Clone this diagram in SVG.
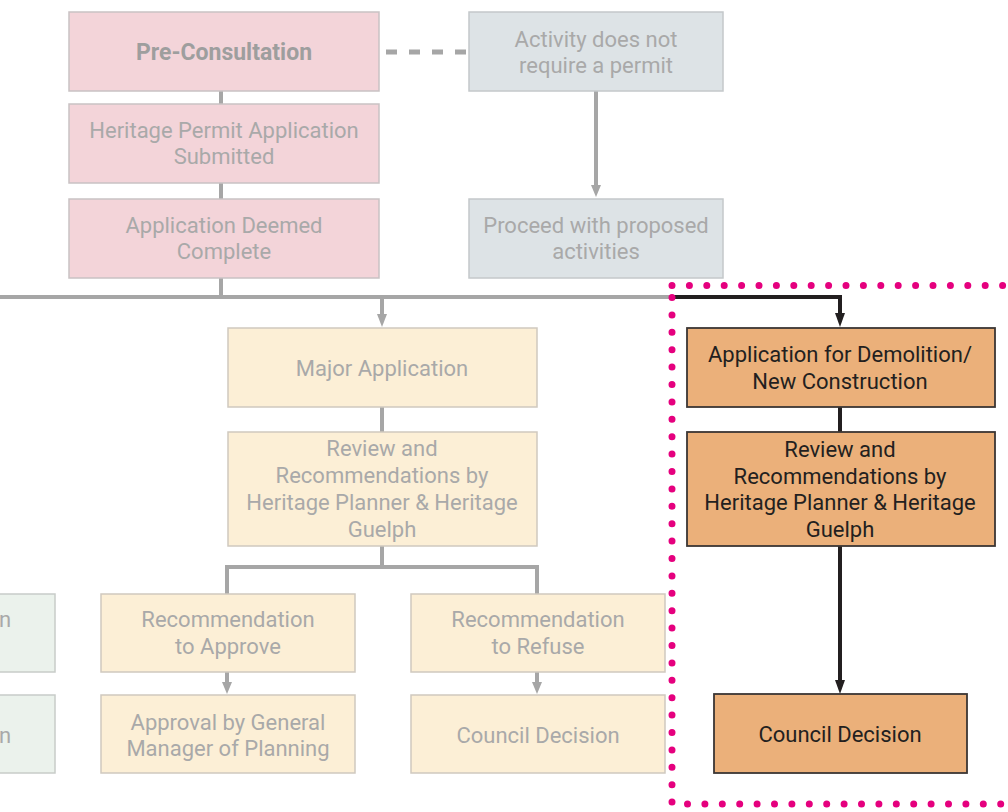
<svg xmlns="http://www.w3.org/2000/svg" width="1008" height="812" viewBox="0 0 1008 812">
<style>
  .pink{fill:#f3d4d9;stroke:#c9c2c3;stroke-width:1.5}
  .blue{fill:#dde3e6;stroke:#c4c8ca;stroke-width:1.5}
  .yel{fill:#fcefd6;stroke:#cfc9bf;stroke-width:1.5}
  .grn{fill:#ebf2ec;stroke:#c8ccc9;stroke-width:1.5}
  .org{fill:#ebb07a;stroke:#3b3634;stroke-width:1.8}
  .t{font-family:Roboto,"Liberation Sans",sans-serif;font-size:22px;text-anchor:middle;fill:#a9a9a9}
  .tb{font-weight:bold;fill:#9e9e9e;font-size:23px}
  .td{fill:#231f20}
  .cg{fill:none;stroke:#a6a6a6;stroke-width:4}
  .ck{fill:none;stroke:#231f20;stroke-width:4}
</style>

<g id="connectors">
  <line class="cg" x1="221" y1="91" x2="221" y2="104"/>
  <line class="cg" x1="221" y1="183" x2="221" y2="199"/>
  <line class="cg" x1="221" y1="278" x2="221" y2="297"/>
  <line x1="386" y1="52" x2="466" y2="52" stroke="#a6a6a6" stroke-width="5" stroke-dasharray="11 12"/>
  <path class="cg" d="M596,91 V187"/>
  <path d="M591,185 L601,185 L596,197 Z" fill="#a6a6a6"/>
  <line class="cg" x1="0" y1="297" x2="674" y2="297"/>
  <path class="cg" d="M382,297 V316"/>
  <path d="M377,314 L387,314 L382,327 Z" fill="#a6a6a6"/>
  <line class="cg" x1="382" y1="407" x2="382" y2="432"/>
  <path class="cg" d="M382,546 V567 M227,594 V567 H537 V594"/>
  <path class="cg" d="M227,672 V684"/>
  <path d="M222,682 L232,682 L227,694 Z" fill="#a6a6a6"/>
  <path class="cg" d="M537,672 V684"/>
  <path d="M532,682 L542,682 L537,694 Z" fill="#a6a6a6"/>
  <path class="ck" d="M672,297 H840 V315"/>
  <path d="M835,313 L845,313 L840,327 Z" fill="#231f20"/>
  <line class="ck" x1="840" y1="407" x2="840" y2="432"/>
  <path class="ck" d="M840,546 V682"/>
  <path d="M835,680 L845,680 L840,694 Z" fill="#231f20"/>
</g>

<g id="n-pre"><rect class="pink" x="69" y="12" width="310" height="79"/><text class="t tb" x="224" y="60">Pre-Consultation</text></g>
<g id="n-submitted"><rect class="pink" x="69" y="104" width="310" height="79"/><text class="t" x="224" y="138">Heritage Permit Application</text><text class="t" x="224" y="164">Submitted</text></g>
<g id="n-complete"><rect class="pink" x="69" y="199" width="310" height="79"/><text class="t" x="224" y="233">Application Deemed</text><text class="t" x="224" y="259">Complete</text></g>

<g id="n-nopermit"><rect class="blue" x="469" y="12" width="254" height="79"/><text class="t" x="596" y="47">Activity does not</text><text class="t" x="596" y="73">require a permit</text></g>
<g id="n-proceed"><rect class="blue" x="469" y="199" width="254" height="79"/><text class="t" x="596" y="233">Proceed with proposed</text><text class="t" x="596" y="259">activities</text></g>

<g id="n-major"><rect class="yel" x="228" y="328" width="309" height="79"/><text class="t" x="382" y="376">Major Application</text></g>
<g id="n-review"><rect class="yel" x="228" y="432" width="309" height="114"/><text class="t" x="382" y="456">Review and</text><text class="t" x="382" y="483">Recommendations by</text><text class="t" x="382" y="510">Heritage Planner &amp; Heritage</text><text class="t" x="382" y="537">Guelph</text></g>
<g id="n-recapprove"><rect class="yel" x="101" y="594" width="254" height="78"/><text class="t" x="228" y="627">Recommendation</text><text class="t" x="228" y="654">to Approve</text></g>
<g id="n-recrefuse"><rect class="yel" x="411" y="594" width="254" height="78"/><text class="t" x="538" y="627">Recommendation</text><text class="t" x="538" y="654">to Refuse</text></g>
<g id="n-approval"><rect class="yel" x="101" y="695" width="254" height="78"/><text class="t" x="228" y="730">Approval by General</text><text class="t" x="228" y="756">Manager of Planning</text></g>
<g id="n-council1"><rect class="yel" x="411" y="695" width="254" height="78"/><text class="t" x="538" y="743">Council Decision</text></g>

<g id="n-left1"><rect class="grn" x="-20" y="594" width="75" height="78"/><text class="t" x="5" y="627">n</text></g>
<g id="n-left2"><rect class="grn" x="-20" y="695" width="75" height="78"/><text class="t" x="5" y="743">n</text></g>

<g id="n-demolition"><rect class="org" x="687" y="328" width="308" height="79"/><text class="t td" x="840" y="362">Application for Demolition/</text><text class="t td" x="840" y="389">New Construction</text></g>
<g id="n-review2"><rect class="org" x="687" y="432" width="308" height="114"/><text class="t td" x="840" y="457">Review and</text><text class="t td" x="840" y="484">Recommendations by</text><text class="t td" x="840" y="510">Heritage Planner &amp; Heritage</text><text class="t td" x="840" y="537">Guelph</text></g>
<g id="n-council2"><rect class="org" x="714" y="694" width="253" height="79"/><text class="t td" x="840" y="742">Council Decision</text></g>

<g id="highlight">
  <path d="M672,285.5 H1007 M672,297.5 V804 H1007" fill="none" stroke="#e5007e" stroke-width="7" stroke-linecap="round" stroke-dasharray="0 17.4"/>
</g>
</svg>
